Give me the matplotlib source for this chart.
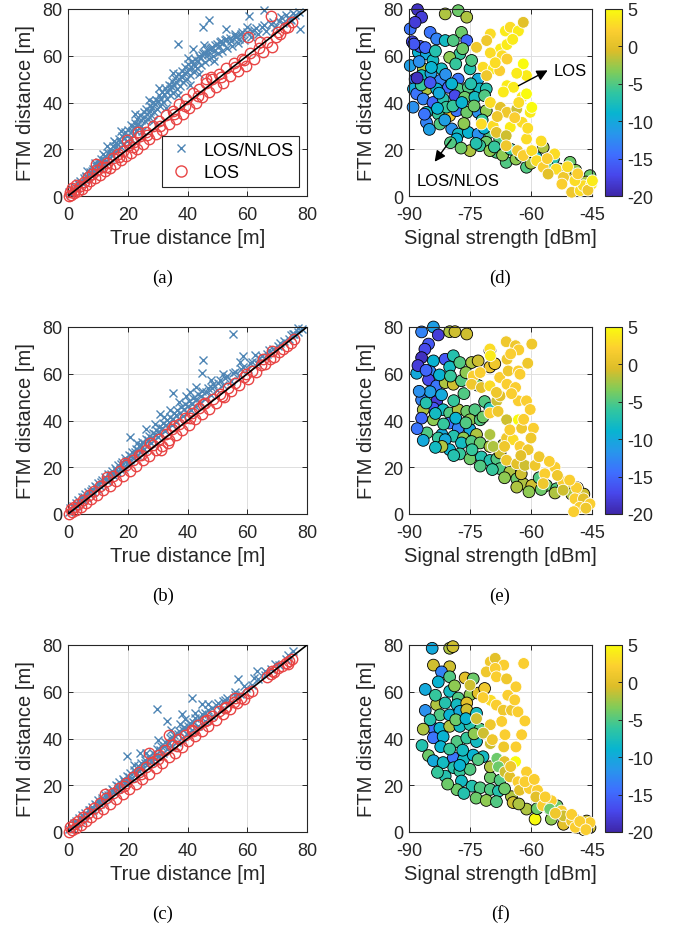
import numpy as np
import matplotlib
matplotlib.use("Agg")
import matplotlib.pyplot as plt
from matplotlib.colors import LinearSegmentedColormap
from matplotlib.lines import Line2D

plt.rcParams['font.family'] = ['Liberation Sans', 'DejaVu Sans']
plt.rcParams['axes.unicode_minus'] = False

# ---------------- panel (a)-(c): FTM vs true distance ----------------
a_mix_x = [0.4, 0.9, 1.3, 1.8, 2.2, 2.9, 3.3, 3.8, 4.1, 4.7, 5.2, 5.6, 6.1, 6.8, 7.2, 7.9, 8.3, 8.8, 9.4, 9.9,
           10.3, 10.8, 11.2, 11.9, 12.4, 12.8, 13.3, 13.9, 14.2, 14.8, 15.1, 15.7, 16.2, 16.6, 17.1, 17.7, 18.2,
           18.5, 19.1, 19.6, 20.2, 20.7, 21.1, 21.6, 22.3, 22.8, 23.1, 23.7, 24.2, 24.6, 25.3, 25.8, 26.2, 26.9,
           27.3, 27.8, 28.4, 28.9, 29.3, 29.8, 30.4, 30.9, 31.5, 31.9, 32.6, 33.2, 33.7, 34.3, 34.8, 35.2, 35.9,
           36.4, 36.9, 37.5, 38.1, 38.6, 39.2, 39.7, 40.3, 40.9, 41.4, 42.1, 42.6, 43.2, 43.9, 44.5, 45.1, 45.8,
           46.4, 47.2, 47.9, 48.6, 49.3, 50.1, 50.8, 51.6, 52.4, 53.3, 54.1, 55.0, 55.9, 56.8, 57.9, 58.9, 60.0,
           61.2, 62.3, 63.6, 64.9, 66.3, 67.8, 69.2, 70.6, 72.1, 73.5, 74.8, 76.0, 77.4, 65.6, 60.6, 47.3, 45.1,
           52.8, 36.9, 41.7, 45.5, 55.9, 59.8, 77.5, 74.3, 30.5, 27.1, 22.4, 17.8, 13.0, 35.0, 40.2,
           3.6, 5.9, 8.1, 10.5, 12.1, 14.5, 16.0, 17.4, 18.8, 19.9, 21.3, 22.0, 23.4, 24.4, 25.6, 26.5, 27.6,
           28.1, 29.0, 30.1, 31.2, 32.1, 33.0, 34.0, 34.6, 35.5, 36.1, 37.0, 37.8, 38.3, 39.0, 39.9, 40.6, 41.1,
           41.9, 42.4, 43.5, 44.2, 44.8, 46.0, 46.8, 47.6, 48.2, 49.0, 49.8, 50.5, 51.2, 52.0, 53.0, 54.5, 56.3,
           57.3, 58.4, 61.7, 63.0, 65.5, 68.5, 71.3, 73.0, 75.2, 20.5, 24.9, 28.6, 32.9, 36.7, 40.8, 44.0, 48.9,
           6.5, 9.1, 11.6, 15.4]
a_mix_y = [1.5, 0.8, 3.1, 2.2, 4.0, 3.6, 5.4, 4.6, 6.3, 5.5, 7.8, 6.9, 8.7, 8.1, 10.2, 9.3, 11.6, 10.4, 12.9, 11.8,
           14.6, 12.7, 15.9, 13.8, 17.2, 15.1, 18.6, 16.4, 20.1, 17.6, 21.3, 18.9, 22.8, 19.7, 24.2, 21.0, 25.6,
           22.3, 27.4, 23.5, 28.1, 24.9, 30.2, 26.1, 31.4, 27.6, 33.0, 29.2, 34.5, 30.1, 35.8, 31.9, 37.4, 33.1,
           38.6, 34.7, 40.3, 35.9, 41.2, 37.4, 43.0, 38.3, 44.6, 40.1, 46.2, 41.4, 47.5, 43.2, 49.0, 44.1, 50.6,
           45.8, 52.3, 47.2, 53.4, 48.9, 55.0, 50.2, 56.3, 51.8, 57.6, 53.1, 58.8, 54.7, 60.1, 55.9, 61.2, 57.3,
           62.5, 58.6, 63.4, 59.8, 64.6, 61.0, 65.7, 62.1, 66.9, 63.2, 67.8, 64.3, 68.5, 65.6, 69.4, 66.7, 70.3,
           67.9, 71.2, 69.1, 72.4, 70.5, 73.6, 72.2, 74.9, 73.8, 76.2, 75.1, 77.6, 78.8, 79.7, 77.2, 75.5, 72.2,
           71.5, 65.0, 62.9, 64.8, 69.3, 72.2, 71.5, 75.7, 46.0, 41.2, 35.1, 27.9, 21.4, 52.8, 58.9,
           5.0, 8.0, 10.5, 13.9, 15.2, 18.3, 21.6, 22.9, 24.8, 25.7, 27.6, 29.5, 30.6, 32.3, 33.6, 35.2, 36.4,
           37.9, 39.2, 40.5, 41.7, 43.8, 44.3, 45.6, 46.9, 47.4, 48.6, 49.9, 51.3, 50.8, 52.7, 53.1, 54.5, 55.4,
           56.3, 55.8, 57.9, 58.9, 60.3, 61.3, 60.8, 62.7, 63.9, 62.2, 64.9, 64.1, 66.2, 65.3, 67.1, 66.5, 68.0,
           67.3, 70.1, 70.6, 72.0, 73.3, 74.5, 76.4, 77.4, 78.2, 22.8, 28.0, 32.2, 37.6, 43.1, 47.6, 52.2, 57.9,
           10.6, 14.0, 17.8, 23.6]
a_los_x = [0.3, 0.6, 1.0, 1.4, 1.9, 2.3, 2.8, 3.4, 4.0, 4.6, 5.3, 6.0, 6.7, 7.5, 8.2, 9.0, 9.8, 10.6, 11.5, 12.3,
           13.2, 14.1, 15.0, 15.8, 16.7, 17.6, 18.5, 19.4, 20.3, 21.2, 22.1, 23.0, 24.0, 25.0, 26.1, 27.2, 28.3,
           29.4, 30.5, 31.6, 32.8, 33.9, 35.1, 36.2, 37.3, 38.4, 39.5, 40.6, 41.7, 42.8, 43.9, 45.0, 46.1, 47.2,
           48.3, 49.5, 50.6, 51.8, 53.0, 54.2, 55.5, 56.8, 58.1, 59.5, 60.9, 62.3, 63.8, 65.2, 66.7, 68.2, 69.6,
           71.1, 72.5, 73.8, 74.9, 67.9, 60.4, 64.3, 46.3, 48.0, 19.9, 23.4, 9.3,
           12.8, 17.1, 21.7, 26.6, 30.9, 35.6, 39.1, 43.4, 51.2, 55.9, 59.0, 70.4]
a_los_y = [0.2, 1.8, 0.6, 3.4, 1.3, 2.6, 4.5, 2.2, 4.3, 3.1, 6.2, 4.9, 8.0, 6.3, 9.4, 7.6, 11.2, 8.9, 12.4, 10.7,
           14.0, 11.9, 16.3, 13.8, 17.9, 15.2, 19.1, 16.9, 21.8, 18.4, 22.9, 20.2, 25.6, 22.1, 27.3, 24.5, 29.8,
           26.7, 31.9, 28.4, 34.6, 30.8, 36.4, 33.0, 39.2, 35.1, 41.3, 37.6, 44.0, 39.9, 45.8, 42.4, 48.2, 44.6,
           50.1, 46.8, 52.3, 48.5, 54.6, 51.2, 56.8, 53.4, 58.7, 55.8, 61.2, 58.4, 63.5, 61.7, 65.8, 63.9, 67.9,
           69.4, 71.8, 72.3, 74.6, 77.2, 67.9, 65.8, 49.9, 51.0, 24.0, 27.5, 13.8,
           12.5, 16.8, 21.0, 26.0, 30.1, 35.0, 38.7, 42.9, 50.8, 55.0, 58.3, 70.1]

b_mix_x = [0.3, 0.8, 1.2, 1.7, 2.1, 2.6, 3.1, 3.5, 4.0, 4.6, 5.1, 5.7, 6.2, 6.8, 7.3, 7.9, 8.4, 9.0, 9.6, 10.1,
           10.7, 11.3, 11.8, 12.4, 13.0, 13.5, 14.1, 14.7, 15.2, 15.8, 16.4, 16.9, 17.5, 18.1, 18.6, 19.2, 19.8,
           20.3, 20.9, 21.5, 22.0, 22.6, 23.2, 23.7, 24.3, 24.9, 25.4, 26.0, 26.6, 27.1, 27.7, 28.3, 28.8, 29.4,
           30.0, 30.6, 31.2, 31.8, 32.4, 33.0, 33.6, 34.2, 34.8, 35.4, 36.0, 36.6, 37.3, 37.9, 38.5, 39.2, 39.8,
           40.5, 41.2, 41.9, 42.6, 43.4, 44.2, 45.0, 45.9, 46.8, 47.7, 48.7, 49.8, 50.9, 52.0, 53.2, 54.5, 55.8,
           57.2, 58.6, 60.1, 61.6, 63.2, 64.9, 66.7, 68.5, 70.4, 72.2, 74.0, 75.7, 77.1, 78.2, 55.1, 45.3, 44.7,
           62.6, 57.6, 58.5, 35.3, 20.8, 77.1, 75.4, 26.0, 30.7, 39.5,
           2.9, 5.4, 7.6, 9.3, 11.0, 12.7, 14.4, 16.1, 17.8, 19.5, 21.2, 22.3, 23.5, 24.6, 25.7, 26.9, 28.0,
           29.1, 30.3, 31.5, 32.7, 33.9, 35.1, 36.3, 37.6, 38.8, 40.1, 41.5, 42.9, 44.6, 46.3, 48.2, 50.3, 52.6,
           55.1, 57.9, 60.8, 63.9, 67.4, 71.0, 74.8, 34.0, 37.0, 41.0, 43.0, 29.0, 32.0, 23.0, 48.0, 52.0]
b_mix_y = [0.9, 2.5, 1.1, 3.6, 2.4, 4.8, 3.3, 5.9, 4.6, 7.1, 5.8, 8.4, 7.0, 9.6, 8.1, 10.9, 9.5, 12.0, 10.8, 13.3,
           11.9, 14.6, 13.0, 15.9, 14.2, 17.0, 15.5, 18.4, 16.7, 19.7, 18.0, 21.0, 19.2, 22.4, 20.3, 23.8, 21.6,
           25.1, 22.9, 26.4, 24.0, 27.9, 25.3, 29.1, 26.5, 30.6, 27.7, 32.0, 29.0, 33.2, 30.3, 34.8, 31.5, 36.1,
           32.8, 37.4, 34.1, 38.9, 35.3, 40.2, 36.6, 41.6, 37.9, 43.0, 39.2, 44.3, 40.6, 45.6, 41.9, 47.1, 43.1,
           48.4, 44.6, 49.8, 46.0, 51.2, 47.6, 52.7, 49.3, 54.0, 51.0, 55.8, 52.9, 57.4, 55.0, 59.1, 57.0, 60.8,
           59.3, 63.0, 61.9, 65.2, 64.5, 67.4, 68.3, 70.6, 71.9, 73.8, 75.0, 76.9, 78.0, 79.1, 77.0, 66.0, 60.2,
           68.1, 65.2, 67.4, 51.6, 33.0, 79.6, 76.9, 36.5, 42.8, 50.6,
           4.1, 7.3, 9.8, 11.6, 13.5, 15.0, 17.3, 18.9, 21.2, 22.8, 24.9, 26.5, 27.3, 29.4, 30.0, 31.8, 32.6,
           34.4, 35.0, 36.9, 38.0, 39.4, 40.6, 42.3, 43.4, 44.9, 46.2, 47.1, 49.0, 50.3, 52.4, 53.7, 55.9, 58.2,
           60.5, 62.2, 64.7, 66.9, 70.0, 73.1, 76.5, 44.6, 47.8, 52.3, 54.3, 38.5, 41.7, 30.4, 57.5, 60.1]
b_los_x = [0.4, 0.9, 1.5, 2.1, 2.8, 3.5, 4.3, 5.1, 6.0, 6.9, 7.8, 8.8, 9.8, 10.8, 11.8, 12.9, 14.0, 15.1, 16.2, 17.3,
           18.4, 19.5, 20.6, 21.7, 22.8, 23.9, 25.0, 26.1, 27.2, 28.3, 29.4, 30.5, 31.6, 32.7, 33.8, 34.9, 36.0,
           37.1, 38.2, 39.3, 40.4, 41.5, 42.6, 43.7, 44.8, 46.0, 47.2, 48.4, 49.6, 50.8, 52.1, 53.4, 54.7, 56.0,
           57.4, 58.8, 60.2, 61.6, 63.0, 64.5, 66.0, 67.5, 69.0, 70.5, 71.9, 73.3, 74.6, 75.8, 27.6, 31.0, 33.4,
           13.2, 19.0, 24.4, 35.6, 40.9, 45.3, 51.5, 59.6, 65.2, 68.3]
b_los_y = [0.1, 2.0, 0.8, 3.2, 1.9, 4.4, 3.1, 6.2, 4.8, 8.1, 6.4, 10.0, 8.3, 12.1, 10.2, 14.3, 12.1, 16.4, 14.1,
           18.5, 16.3, 20.9, 18.4, 23.0, 20.6, 25.1, 23.2, 27.4, 25.0, 29.6, 27.4, 31.9, 29.2, 34.3, 31.6, 36.2,
           33.8, 38.5, 36.0, 40.9, 38.1, 43.1, 40.5, 45.2, 42.8, 47.3, 45.1, 49.4, 47.6, 51.5, 50.0, 53.8, 52.6,
           55.9, 55.1, 58.4, 57.9, 61.0, 60.8, 63.6, 64.2, 66.3, 67.1, 69.2, 70.4, 71.8, 73.1, 74.9, 30.5, 27.5,
           30.2, 15.8, 21.8, 25.2, 37.8, 41.2, 46.9, 50.4, 60.1, 66.5, 69.9]

c_mix_x = [0.5, 1.0, 1.4, 1.9, 2.4, 2.8, 3.3, 3.8, 4.3, 4.8, 5.3, 5.8, 6.4, 6.9, 7.4, 8.0, 8.5, 9.1, 9.6, 10.2,
           10.8, 11.3, 11.9, 12.5, 13.1, 13.6, 14.2, 14.8, 15.4, 16.0, 16.6, 17.2, 17.8, 18.4, 19.0, 19.6, 20.2,
           20.8, 21.4, 22.0, 22.7, 23.3, 23.9, 24.5, 25.2, 25.8, 26.5, 27.1, 27.8, 28.4, 29.1, 29.8, 30.5, 31.2,
           31.9, 32.6, 33.3, 34.1, 34.8, 35.6, 36.4, 37.2, 38.0, 38.9, 39.8, 40.7, 41.6, 42.6, 43.6, 44.7, 45.8,
           47.0, 48.3, 49.6, 51.0, 52.5, 54.1, 55.8, 57.6, 59.5, 61.5, 63.6, 65.8, 68.1, 70.5, 72.9, 75.4, 29.7,
           41.4, 33.0, 57.0, 63.2, 19.6, 52.0, 38.0, 24.0, 45.0,
           2.6, 5.0, 7.2, 9.4, 11.5, 13.3, 15.1, 16.9, 18.7, 20.5, 22.3, 24.1, 25.9, 27.5, 29.3, 30.9, 32.3,
           33.7, 35.2, 36.8, 38.4, 40.1, 41.9, 43.9, 45.9, 48.1, 50.3, 53.1, 55.9, 58.8, 62.2, 66.0, 69.4, 73.8,
           30.0, 34.5, 39.0, 42.5, 26.0, 22.0, 37.5, 47.0]
c_mix_y = [1.2, 2.6, 1.5, 3.8, 2.9, 4.9, 3.9, 6.0, 5.0, 7.1, 6.2, 8.3, 7.4, 9.6, 8.5, 10.8, 9.6, 12.1, 10.9, 13.5,
           12.0, 14.6, 13.2, 16.0, 14.5, 17.2, 15.7, 18.6, 17.0, 19.9, 18.2, 21.3, 19.5, 22.6, 20.8, 24.0, 22.0,
           25.3, 23.3, 26.6, 24.6, 28.1, 25.9, 29.5, 27.2, 30.9, 28.6, 32.4, 29.9, 33.8, 31.3, 35.4, 32.6, 37.0,
           34.0, 38.4, 35.5, 40.1, 37.0, 41.7, 38.6, 43.3, 40.2, 45.1, 41.9, 46.8, 43.6, 48.6, 45.4, 50.3, 47.4,
           52.1, 49.5, 54.2, 52.3, 56.4, 55.2, 58.7, 58.9, 61.8, 63.0, 65.4, 67.2, 69.6, 71.5, 74.0, 77.4, 52.5,
           57.5, 47.5, 65.4, 69.0, 32.5, 56.0, 50.5, 33.8, 54.6,
           3.9, 6.9, 9.3, 11.5, 13.9, 15.8, 18.1, 19.7, 22.0, 23.7, 25.9, 27.4, 29.6, 31.3, 33.1, 35.2, 36.8,
           38.2, 40.1, 41.8, 43.6, 45.3, 47.1, 48.6, 50.7, 52.9, 55.1, 57.2, 60.1, 62.4, 65.8, 68.9, 71.8, 75.9,
           39.2, 43.6, 48.3, 50.9, 33.6, 28.5, 46.4, 54.6]
c_los_x = [0.3, 0.8, 1.4, 2.0, 2.7, 3.4, 4.2, 5.0, 5.9, 6.8, 7.7, 8.7, 9.7, 10.7, 11.7, 12.8, 13.9, 15.0, 16.1, 17.2,
           18.3, 19.4, 20.5, 21.6, 22.7, 23.8, 24.9, 26.0, 27.1, 28.2, 29.3, 30.4, 31.5, 32.6, 33.7, 34.8, 35.9,
           37.0, 38.1, 39.2, 40.3, 41.4, 42.5, 43.6, 44.7, 45.8, 47.0, 48.2, 49.4, 50.6, 51.8, 53.0, 54.2, 55.4,
           56.6, 57.8, 59.0, 60.2, 61.5, 66.5, 67.8, 69.1, 70.4, 71.7, 72.9, 74.0, 74.9, 33.7, 27.0, 12.4,
           18.8, 24.3, 30.0, 36.4, 41.9, 46.4, 52.4, 56.0, 68.4, 73.5]
c_los_y = [0.2, 2.3, 0.7, 3.5, 1.9, 4.6, 3.2, 6.3, 4.9, 8.2, 6.5, 10.3, 8.1, 12.2, 10.0, 14.4, 12.0, 16.5, 14.2,
           18.7, 16.4, 21.0, 18.3, 23.4, 20.5, 25.6, 22.8, 27.9, 25.0, 30.1, 27.3, 32.8, 29.5, 35.0, 31.9, 37.4,
           34.0, 39.6, 36.5, 41.3, 38.8, 43.5, 41.0, 45.7, 43.3, 47.6, 45.5, 49.6, 47.9, 51.8, 50.4, 53.5, 52.8,
           55.6, 55.0, 57.3, 57.1, 59.4, 60.2, 66.4, 67.6, 68.5, 70.1, 71.0, 72.4, 73.3, 74.2, 41.6, 33.8, 16.3,
           19.6, 24.8, 31.2, 37.0, 43.1, 47.9, 53.0, 57.4, 69.0, 72.0]

# ---------------- panel (d)-(f): FTM distance vs signal strength ----------------
d_nlos_rssi = [-87.9, -89.7, -86.9, -88.5, -81.1, -77.9, -75.8, -84.8, -83.2, -81.1, -79.1, -77.1, -75.8, -87.7,
               -85.7, -84.1, -82.0, -89.7, -86.5, -88.5, -86.9, -82.4, -77.9, -75.0, -74.6, -77.5, -80.0, -88.9,
               -85.7, -83.2, -80.3, -77.9, -75.4, -73.0, -72.6, -71.0, -88.1, -86.5, -84.1, -81.6, -78.7, -76.3,
               -73.8, -71.4, -85.7, -82.8, -80.0, -78.3, -75.8, -73.0, -71.0, -85.7, -82.4, -79.5, -77.9, -75.4,
               -73.0, -70.1, -67.7, -75.0, -71.0, -68.5, -66.1, -63.7, -61.1, -58.7, -57.0, -54.5, -50.4, -52.9,
               -45.5, -48.8, -51.2, -78.3, -72.6, -70.1, -89.2, -87.3, -84.6, -80.8,
               -88.8, -87.5, -86.0, -84.5, -83.5, -82.6, -81.0, -79.5, -78.5, -76.8, -74.8, -87.0, -84.8, -83.0,
               -81.2, -79.2, -77.0, -74.0, -72.0, -76.5, -73.5, -71.5, -69.0, -67.0, -65.0, -62.5, -60.0, -56.0,
               -49.0, -46.5, -89.0, -86.2, -85.0, -79.8, -77.2, -88.0]
d_nlos_dist = [79.7, 71.5, 76.5, 74.3, 77.9, 79.3, 76.5, 70.0, 67.2, 66.5, 66.5, 70.0, 66.5, 61.5, 60.8, 58.0,
               54.4, 55.8, 54.4, 50.0, 51.5, 49.4, 50.0, 54.4, 58.0, 60.8, 59.3, 45.8, 45.8, 45.8, 46.5, 45.8,
               46.5, 50.0, 45.8, 45.8, 43.7, 41.5, 40.0, 41.5, 42.9, 42.2, 42.2, 42.9, 35.8, 35.1, 34.4, 36.5,
               35.8, 35.8, 36.5, 31.5, 30.8, 28.7, 26.5, 27.2, 26.5, 27.2, 24.4, 19.4, 23.0, 18.7, 14.4, 15.8,
               12.3, 16.5, 20.8, 15.8, 14.4, 11.5, 8.7, 7.3, 9.4, 24.4, 21.5, 19.4, 66.0, 64.0, 52.5, 38.0,
               65.0, 57.5, 63.5, 55.0, 62.0, 44.0, 52.0, 48.0, 56.5, 63.0, 48.0, 47.5, 48.5, 37.5,
               32.5, 38.5, 40.0, 38.5, 32.5, 31.0, 22.5, 29.0, 21.0, 17.5, 20.0, 17.5, 14.0, 13.0,
               11.0, 6.0, 38.0, 35.0, 28.5, 22.8, 20.5, 50.5]
d_nlos_val = [-19, -14, -18, -18, -2, -4, -2, -14, -13, -8, -5, -4, -15, -9, -10, -8, -8, -11, -2, -14, -8, -13,
              -14, -7, -5, -6, -3, -10, -2, -9, -15, -5, -5, -10, -8, -7, -14, -13, -15, -7, -17, -4, -8, -5, -8,
              -6, 1, -14, -4, -12, -3, -13, -5, -12, -8, -9, -12, -5, -5, -2, -4, -5, -5, -3, -5, -8, -2, -7, -4,
              -2, -4, -3, -1, -9, -6, -3, -17, -16, -11, -6,
              -16, -12, -15, -9, -7, -10, -12, -9, -6, -4, -7, -6, -16, -9, -11, -6, -9, -4, -6, -3, -7, -9, -6,
              -3, -6, -4, -2, -5, -3, -2, -12, -14, -11, -5, -4, -19]
d_los_rssi = [-70.0, -66.3, -65.1, -63.1, -61.9, -70.9, -73.4, -67.5, -65.9, -70.0, -67.1, -65.9, -61.9, -61.1,
              -71.8, -69.3, -67.7, -70.9, -65.9, -64.3, -62.2, -61.1, -70.0, -67.5, -65.9, -63.5, -60.2, -59.8,
              -72.2, -69.3, -65.1, -62.2, -68.5, -66.1, -61.1, -66.1, -63.3, -61.9, -59.8, -58.6, -57.0, -54.2,
              -53.8, -55.8, -52.0, -50.0, -47.9, -47.1, -45.1, -49.2, -52.4,
              -64.5, -68.8, -63.5, -66.8, -63.0, -68.3, -64.0, -60.8, -57.5, -56.0, -51.0, -48.5, -46.0, -44.9]
d_los_dist = [69.3, 70.6, 72.2, 70.6, 74.3, 66.5, 63.6, 62.9, 64.8, 61.2, 60.0, 58.6, 56.5, 51.5, 55.1, 54.4,
              53.6, 51.5, 47.2, 46.5, 42.3, 43.7, 40.0, 37.9, 35.8, 37.2, 35.8, 37.9, 30.8, 30.0, 29.4, 31.5,
              27.2, 25.8, 24.4, 21.5, 19.4, 17.3, 19.4, 15.1, 12.3, 18.0, 11.5, 9.4, 8.0, 1.6, 2.3, 4.4, 5.1,
              6.6, 5.1,
              67.0, 57.0, 52.5, 44.5, 40.0, 34.0, 33.5, 29.0, 23.5, 16.0, 12.5, 9.5, 2.5, 6.5]
d_los_val = [3, 4, 3, 4, 0, 1, 1, 4, 4, 3, 3, 2, 5, 4, 3, 4, 2, 1, 4, 4, 4, 5, 3, 0, 1, -1, 4, 5, 3, 3, 4, 3, 0,
             -1, 3, 1, 1, 2, 3, 3, 2, 3, 3, 0, 1, 1, 3, 3, 4, 3, 2,
             4, 3, 4, 4, 3, 1, 2, 3, 3, 2, 3, 2, 1, 4]

e_nlos_rssi = [-86.9, -84.0, -82.8, -80.0, -78.7, -75.8, -85.2, -86.1, -86.9, -84.0, -81.1, -79.1, -80.0, -77.5,
               -88.1, -84.8, -85.2, -83.2, -81.1, -79.1, -77.1, -74.6, -73.0, -70.1, -68.9, -70.1, -84.8, -86.9,
               -83.2, -84.0, -86.5, -81.6, -86.9, -84.0, -80.0, -77.9, -75.8, -73.8, -71.4, -70.1, -75.0, -72.5,
               -80.0, -77.9, -75.0, -81.9, -79.0, -76.6, -73.4, -85.6, -82.8, -81.1, -80.0, -81.9, -77.1, -74.6,
               -72.5, -70.1, -77.5, -75.0, -72.2, -70.1, -68.4, -67.6, -65.2, -63.5, -61.9, -59.8, -56.2, -53.7,
               -52.1, -50.4, -48.6, -54.1, -62.4, -67.6, -66.8,
               -87.8, -85.8, -82.5, -79.8, -76.0, -87.5, -85.8, -82.0, -79.0, -76.5, -73.0, -71.8, -83.5, -81.5,
               -78.5, -76.0, -88.0, -86.5, -83.5, -79.0, -74.5, -72.5, -69.5, -66.5, -63.5, -60.5, -57.5, -50.0,
               -47.0, -58.0]
e_nlos_dist = [77.9, 80.0, 76.6, 78.0, 78.0, 77.0, 72.7, 70.5, 66.9, 65.5, 66.2, 67.7, 62.9, 64.8, 60.2, 60.9,
               57.4, 54.8, 56.2, 55.5, 57.0, 64.8, 65.5, 62.9, 64.3, 69.9, 52.3, 48.8, 48.1, 45.3, 44.6, 44.6,
               41.0, 40.3, 43.2, 44.6, 43.9, 44.6, 48.1, 45.3, 40.3, 40.3, 38.9, 36.7, 36.1, 34.0, 33.3, 32.5,
               34.0, 34.7, 32.5, 31.8, 27.5, 28.9, 30.4, 31.0, 30.4, 28.9, 25.7, 23.6, 24.4, 22.9, 23.6, 19.4,
               18.0, 15.0, 12.9, 12.2, 12.2, 10.8, 12.9, 12.2, 11.2, 9.0, 17.2, 26.1, 29.6,
               63.5, 61.5, 59.5, 59.0, 60.5, 52.5, 47.5, 51.0, 48.5, 51.5, 55.0, 41.5, 43.0, 38.5,
               41.0, 39.0, 36.5, 31.5, 28.5, 25.0, 27.5, 20.5, 19.0, 15.5, 11.5, 9.5, 10.5, 8.5,
               8.5, 15.5]
e_nlos_val = [-13, -11, -18, -2, -1, -1, -16, -17, -19, -9, -16, -7, -8, -5, -10, -13, -17, -14, -2, -1, -5, -2,
              -1, 1, 1, -1, -11, -13, -18, -16, -2, -8, -15, -3, -5, -2, -4, -5, -5, -7, -3, -5, -14, -13, -10,
              -10, -7, -3, -2, -5, -6, -10, -9, -2, -8, -5, -4, -2, -6, -4, -7, -7, -5, -5, -2, -4, -2, -1, -4,
              -5, -2, -1, 0, -2, -1, -1, -2,
              -18, -15, -9, -6, -3, -12, -7, -10, -6, -5, -4, -4, -8, -6, -9, -5, -14, -10, -8, -7, -6, -5, -6,
              -3, -2, -3, -4, -2, -1, -5]
e_los_rssi = [-70.1, -70.0, -66.1, -63.8, -63.0, -59.8, -65.9, -74.2, -74.6, -72.2, -70.1, -67.7, -65.6, -63.1,
              -62.7, -65.9, -63.8, -68.4, -67.6, -63.1, -61.1, -60.2, -70.1, -68.1, -66.0, -63.1, -62.3, -59.4,
              -70.1, -66.0, -64.4, -62.7, -60.7, -69.3, -66.5, -66.0, -63.5, -61.5, -59.0, -56.6, -54.1, -57.0,
              -52.1, -52.1, -48.8, -49.2, -47.1, -45.5, -48.0,
              -65.0, -60.8, -72.5, -68.5, -64.8, -61.8, -65.2, -60.0, -58.0, -55.5, -53.5, -50.5, -46.5, -49.5,
              -62.5]
e_los_dist = [70.6, 67.7, 73.7, 72.0, 70.2, 72.7, 66.2, 59.0, 55.5, 54.1, 54.8, 58.4, 61.2, 61.2, 59.8, 55.5,
              54.1, 48.4, 50.5, 48.4, 48.4, 44.7, 43.2, 43.9, 40.3, 40.3, 36.7, 36.7, 34.0, 32.5, 31.8, 28.9,
              27.5, 28.9, 28.9, 23.0, 21.5, 20.8, 20.8, 17.2, 20.0, 13.0, 13.8, 10.2, 11.2, 6.5, 6.5, 4.3, 2.9,
              68.5, 64.5, 60.5, 52.0, 51.5, 40.5, 36.0, 32.5, 24.5, 22.5, 16.5, 14.5, 2.5, 1.0, 25.0]
e_los_val = [3, 4, 1, 1, 2, 1, 1, 2, 1, 0, 3, 2, 1, 2, 2, 2, 2, -1, 0, 2, 2, 2, 2, 1, -1, 5, 1, 2, -2, 1, 3, 2, 1,
             -2, 1, 1, 0, -1, 1, 2, 2, 1, 2, -1, 2, 2, 0, 2, 2,
             2, 1, 2, 1, 2, 2, 2, 1, 1, 2, 1, 2, 1, 2, 0]

f_nlos_rssi = [-84.3, -80.0, -79.2, -84.0, -80.0, -82.0, -82.8, -80.0, -76.2, -74.2, -80.0, -77.9, -75.0, -73.0,
               -71.4, -83.2, -81.1, -78.2, -75.8, -82.4, -80.0, -77.5, -75.8, -73.4, -84.0, -82.4, -80.0, -77.5,
               -75.0, -84.0, -81.6, -78.2, -75.8, -73.4, -85.2, -84.0, -81.6, -79.1, -76.6, -74.2, -79.0, -81.1,
               -77.5, -75.0, -77.1, -78.2, -74.5, -72.5, -70.0, -68.0, -70.0, -67.6, -64.8, -64.4, -61.1, -59.0,
               -57.4, -55.3, -52.0, -52.0, -48.8, -45.5, -46.3, -53.6, -71.8, -70.0,
               -86.0, -83.5, -78.8, -86.0, -84.8, -78.5, -76.0, -72.5, -86.5, -82.2, -80.0, -76.8, -74.0, -86.8,
               -83.0, -80.5, -76.5, -73.5, -71.0, -68.5, -66.5, -63.0, -58.5, -55.0, -49.5, -47.0, -77.5, -73.0]
f_nlos_dist = [78.6, 78.6, 79.3, 71.4, 70.7, 68.5, 64.2, 66.4, 65.9, 65.5, 60.2, 57.3, 58.7, 59.4, 61.4, 54.5,
               55.2, 54.5, 55.2, 50.1, 50.1, 51.6, 52.3, 50.8, 44.4, 44.4, 45.2, 45.2, 45.9, 40.3, 40.8, 38.7,
               40.2, 38.7, 32.7, 30.5, 29.7, 31.8, 31.0, 32.9, 27.5, 23.9, 26.1, 26.8, 21.8, 18.1, 19.6, 18.9,
               18.2, 17.5, 23.3, 22.2, 15.1, 12.6, 9.8, 5.5, 12.6, 9.8, 6.9, 3.3, 1.9, 1.9, 4.7, 11.2, 32.2, 27.9,
               61.0, 58.5, 62.5, 52.0, 48.0, 48.0, 48.5, 44.0, 44.0, 36.5, 35.5, 35.0, 42.0, 37.0,
               25.5, 20.5, 16.5, 14.5, 13.5, 13.0, 18.5, 12.0, 10.0, 5.5, 5.5, 1.0, 28.5, 31.0]
f_nlos_val = [-10, -2, -1, -1, -1, -13, -9, -5, 0, -4, -8, -5, -3, 0, 1, -2, -7, -8, 0, -5, -9, -10, -1, -8, -14,
              -9, -2, -8, -7, -14, -9, -5, -6, -8, -4, -10, -8, -14, -8, -9, -7, -7, -6, -5, -8, -4, -7, -5, -5,
              -7, -4, -5, -2, -1, -2, 5, -3, -4, -2, 0, 1, -1, -1, -4, -8, -2,
              -10, -6, -3, -12, -7, -4, -9, -5, -2, -9, -6, -8, -3, -7, -6, -4, -7, -4, -3, -5, -4, -2, -4, -3,
              -2, 0, -9, -5]
f_los_rssi = [-70.0, -68.8, -66.7, -61.8, -71.0, -68.8, -68.5, -75.0, -63.7, -65.7, -69.9, -68.5, -66.8, -64.8,
              -63.2, -73.4, -67.2, -70.0, -71.7, -66.4, -62.3, -70.0, -66.7, -63.7, -68.4, -66.5, -63.8, -68.0,
              -66.4, -65.2, -63.2, -61.1, -62.8, -60.4, -58.4, -58.8, -57.1, -55.0, -55.4, -52.5, -52.0, -50.0,
              -47.6, -45.5, -49.1,
              -66.0, -71.8, -64.0, -61.5, -69.5, -65.0, -61.5, -59.2, -56.5, -54.0, -50.0, -48.0, -46.5]
f_los_dist = [72.8, 74.3, 71.4, 72.1, 68.5, 70.0, 66.4, 62.8, 62.1, 58.5, 56.3, 54.3, 52.1, 52.1, 51.4, 48.5,
              47.3, 45.9, 42.3, 41.6, 41.6, 37.8, 36.4, 36.4, 31.5, 30.1, 30.1, 27.9, 25.7, 23.6, 21.5, 25.7,
              17.9, 18.6, 17.9, 15.0, 11.3, 13.4, 9.8, 9.0, 6.9, 4.7, 2.6, 4.0, 2.0,
              65.5, 57.5, 56.5, 47.5, 39.5, 28.0, 21.5, 22.5, 15.0, 8.0, 7.5, 4.5, 1.0]
f_los_val = [1, 0, 2, 2, 1, 2, 2, -1, 2, 2, 3, 2, 1, 1, 2, -1, 2, 1, -1, 2, 2, -1, 1, 2, -4, 0, 5, -4, -1, 0, 2,
             2, 0, 2, 2, 0, 2, 2, -4, 2, -1, 1, 2, 2, 2,
             1, 2, 2, 2, 1, 1, 2, 2, 2, 1, 2, 2, 2]

# MATLAB parula approximation
parula = LinearSegmentedColormap.from_list('parula', [
    (0.2422, 0.1504, 0.6603), (0.2803, 0.2782, 0.9221), (0.2440, 0.4358, 0.9988),
    (0.1540, 0.5902, 0.9218), (0.0297, 0.7082, 0.8163), (0.1938, 0.7758, 0.6251),
    (0.5044, 0.7993, 0.3480), (0.8634, 0.7406, 0.1596), (0.9892, 0.8136, 0.1885),
    (0.9763, 0.9831, 0.0538)])

BLUE = '#4f86b5'
RED = '#e84545'
AXC = '#262626'

W, H = 673, 929


def px_box(left, top, right, bottom):
    return [left / W, 1 - bottom / H, (right - left) / W, (bottom - top) / H]


def style_axes(ax):
    ax.grid(True, color='#dedede', linewidth=0.7)
    ax.set_axisbelow(True)
    ax.tick_params(direction='in', length=3.5, width=0.7, labelsize=13, colors=AXC,
                   top=True, right=True)
    ax.tick_params(axis='x', pad=7)
    ax.tick_params(axis='y', pad=4)
    for s in ax.spines.values():
        s.set_color(AXC)
        s.set_linewidth(0.8)


fig = plt.figure(figsize=(W / 100, H / 100), dpi=100)

left_data = [(a_mix_x, a_mix_y, a_los_x, a_los_y),
             (b_mix_x, b_mix_y, b_los_x, b_los_y),
             (c_mix_x, c_mix_y, c_los_x, c_los_y)]
right_data = [(d_nlos_rssi, d_nlos_dist, d_nlos_val, d_los_rssi, d_los_dist, d_los_val),
              (e_nlos_rssi, e_nlos_dist, e_nlos_val, e_los_rssi, e_los_dist, e_los_val),
              (f_nlos_rssi, f_nlos_dist, f_nlos_val, f_los_rssi, f_los_dist, f_los_val)]
left_tags = ['(a)', '(b)', '(c)']
right_tags = ['(d)', '(e)', '(f)']

for row in range(3):
    top = 10 + 318 * row
    bottom = 197 + 318 * row

    # left: FTM vs true distance
    mx, my, lx, ly = left_data[row]
    ax = fig.add_axes(px_box(68, top, 307, bottom))
    ax.plot(mx, my, 'x', color=BLUE, markersize=5.5, markeredgewidth=1.0, zorder=2, clip_on=False)
    ax.plot(lx, ly, 'o', markerfacecolor='none', markeredgecolor=RED, markersize=7.5,
            markeredgewidth=1.0, zorder=3, clip_on=False)
    ax.plot([0, 80], [0, 80], color='k', linewidth=1.2, zorder=4)
    ax.set_xlim(0, 80)
    ax.set_ylim(0, 80)
    ax.set_xticks([0, 20, 40, 60, 80])
    ax.set_yticks([0, 20, 40, 60, 80])
    style_axes(ax)
    ax.set_xlabel('True distance [m]', fontsize=14.5, color=AXC, labelpad=4)
    ax.set_ylabel('FTM distance [m]', fontsize=14.5, color=AXC, labelpad=5)
    if row == 0:
        handles = [Line2D([], [], linestyle='none', marker='x', color=BLUE, markersize=6, markeredgewidth=1.0),
                   Line2D([], [], linestyle='none', marker='o', markerfacecolor='none', markeredgecolor=RED,
                          markersize=8, markeredgewidth=1.0)]
        leg = ax.legend(handles, ['LOS/NLOS', 'LOS'], loc='lower right', bbox_to_anchor=(0.965, 0.05),
                        fontsize=13, fancybox=False, framealpha=1, edgecolor=AXC, borderpad=0.3,
                        handletextpad=0.5, labelspacing=0.3, handlelength=1.5, borderaxespad=0)
        leg.get_frame().set_linewidth(0.8)
        leg.set_zorder(10)
    fig.text(163 / W, 1 - (278 + 318 * row) / H, left_tags[row], ha='center', va='center',
             fontsize=13.5, family='Liberation Serif')

    # right: FTM distance vs RSSI
    nr, nd, nv, lr, ld, lv = right_data[row]
    ax2 = fig.add_axes(px_box(409, top, 592, bottom))
    sc = ax2.scatter(nr, nd, c=nv, cmap=parula, vmin=-20, vmax=5, s=72, edgecolors='k',
                     linewidths=0.6, zorder=2, clip_on=False)
    ax2.scatter(lr, ld, c=lv, cmap=parula, vmin=-20, vmax=5, s=72, edgecolors='white',
                linewidths=0.6, zorder=3, clip_on=False)
    ax2.set_xlim(-90, -45)
    ax2.set_ylim(0, 80)
    ax2.set_xticks([-90, -75, -60, -45])
    ax2.set_yticks([0, 20, 40, 60, 80])
    style_axes(ax2)
    ax2.set_xlabel('Signal strength [dBm]', fontsize=14.5, color=AXC, labelpad=4)
    ax2.set_ylabel('FTM distance [m]', fontsize=14.5, color=AXC, labelpad=5)
    if row == 0:
        ax2.annotate('', xy=(-55.3, 54.3), xytext=(-63.7, 46.6),
                     arrowprops=dict(arrowstyle='-|>', color='k', lw=1.0, mutation_scale=16), zorder=5)
        ax2.text(-50.3, 53.5, 'LOS', fontsize=12, ha='center', va='center', color='k', zorder=5)
        ax2.annotate('', xy=(-84.1, 13.7), xytext=(-79.2, 25.2),
                     arrowprops=dict(arrowstyle='-|>', color='k', lw=1.0, mutation_scale=16), zorder=5)
        ax2.text(-78.0, 6.8, 'LOS/NLOS', fontsize=12, ha='center', va='center', color='k', zorder=5)

    cax = fig.add_axes(px_box(605, top, 622, bottom))
    cb = fig.colorbar(sc, cax=cax, ticks=[-20, -15, -10, -5, 0, 5])
    cb.ax.tick_params(direction='in', length=3, width=0.7, labelsize=13, colors=AXC, pad=4)
    cb.outline.set_edgecolor(AXC)
    cb.outline.set_linewidth(0.8)
    fig.text(500 / W, 1 - (278 + 318 * row) / H, right_tags[row], ha='center', va='center',
             fontsize=13.5, family='Liberation Serif')

fig.savefig('out.png', dpi=100)
